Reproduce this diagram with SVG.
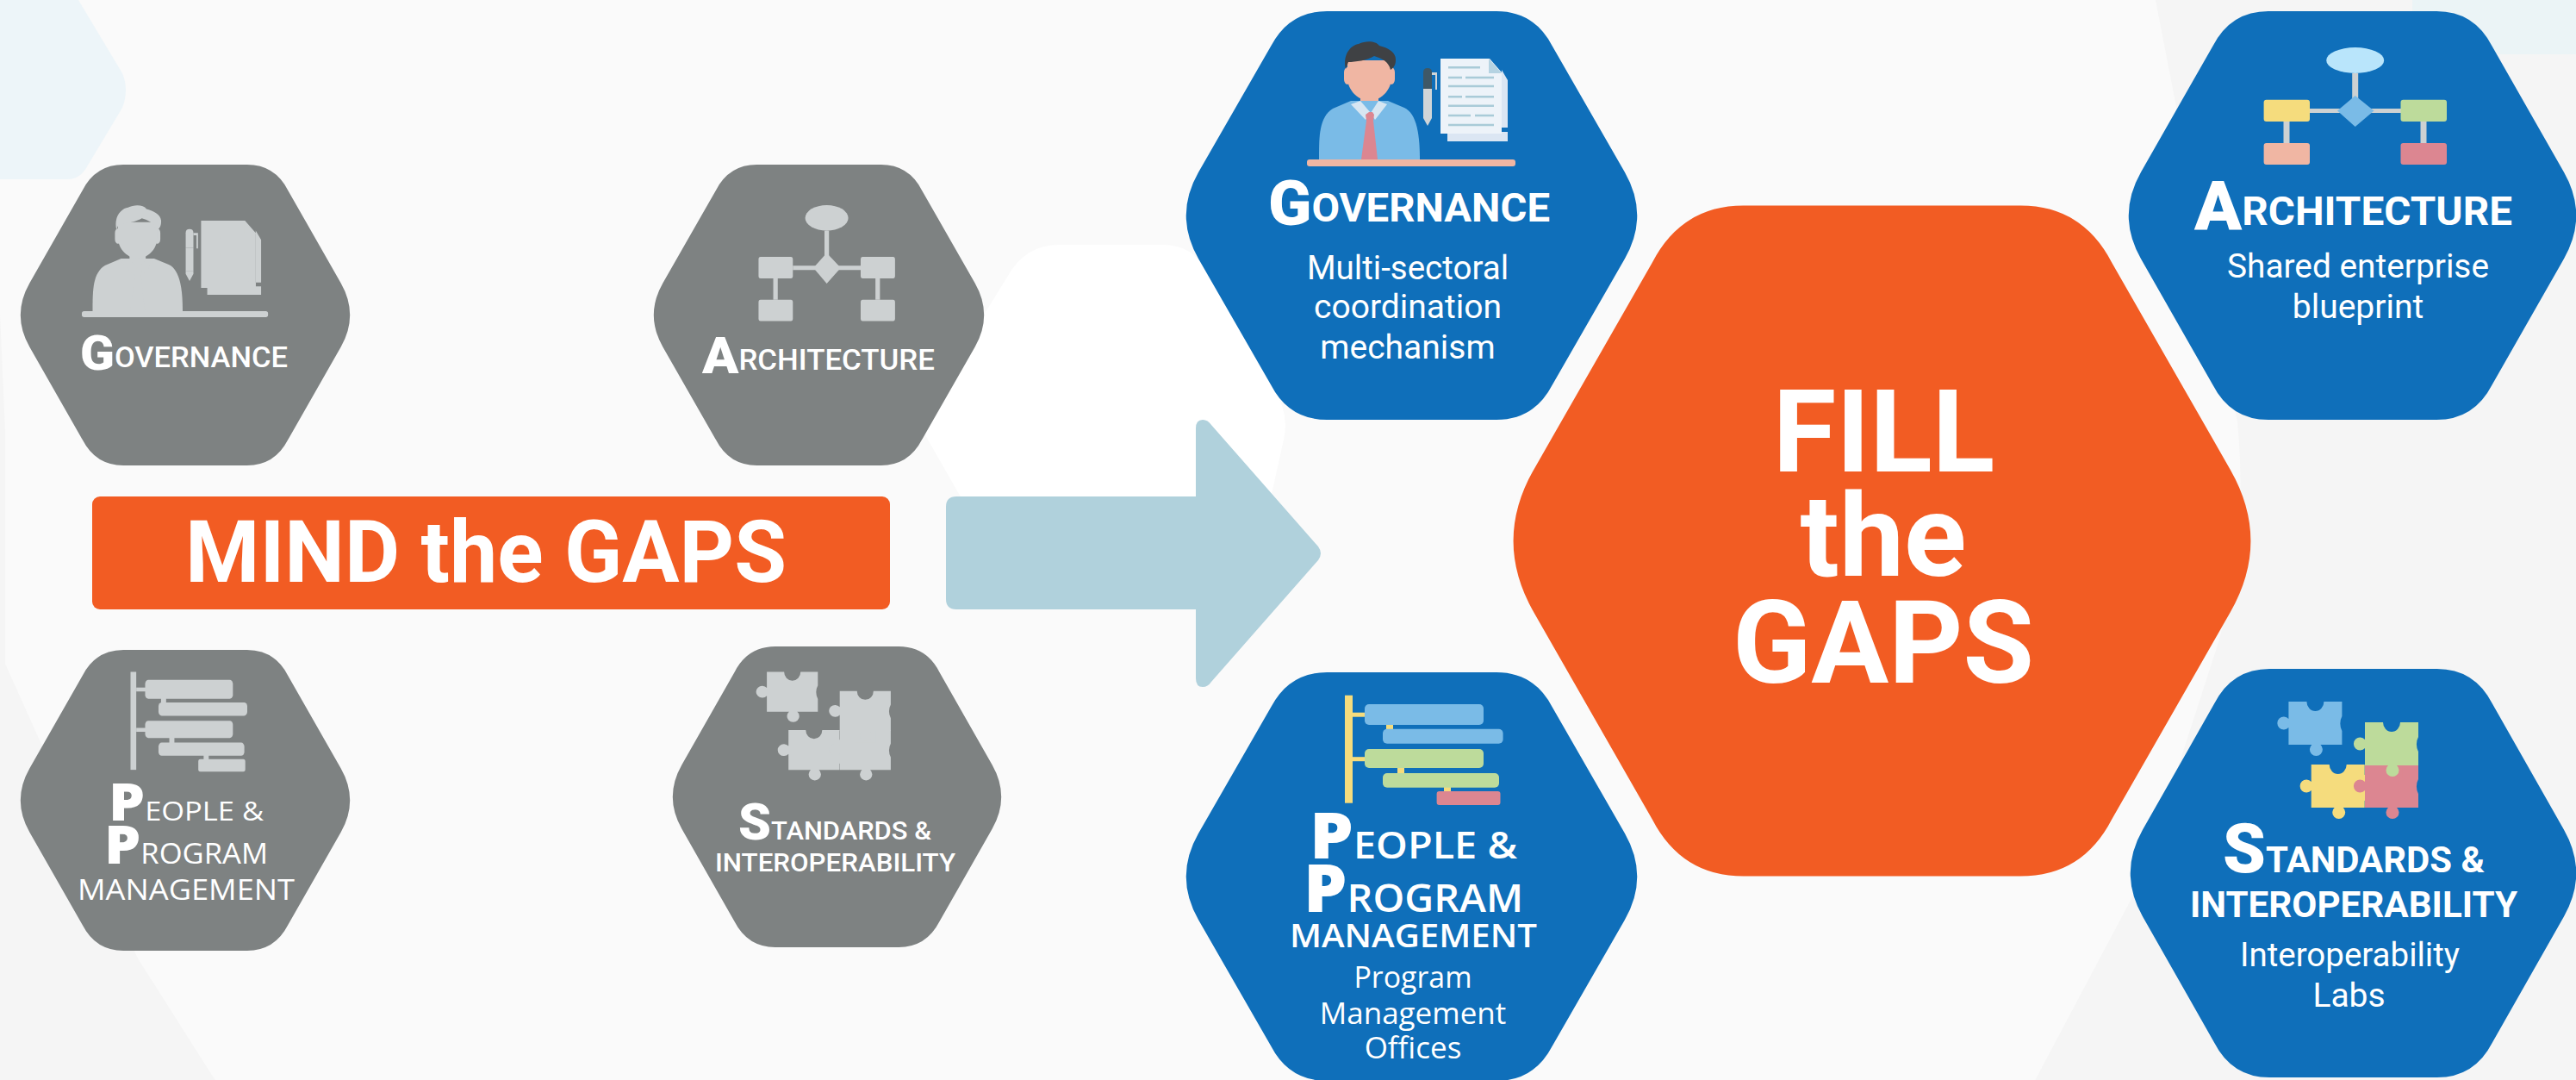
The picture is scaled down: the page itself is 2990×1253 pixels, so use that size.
<svg xmlns="http://www.w3.org/2000/svg" width="2990" height="1253" viewBox="0 0 2990 1253">
<style>
text{fill:#fff;font-family:Roboto,"Liberation Sans",sans-serif}
.hd{font-weight:700}
.hdg{font-weight:500}
.cap{font-weight:900}
.sub{font-weight:400;text-anchor:middle}
.os{font-family:"Open Sans","Liberation Sans",sans-serif;font-weight:600}
.osg{font-family:"Open Sans","Liberation Sans",sans-serif;font-weight:500}
.osb{font-family:"Open Sans","Liberation Sans",sans-serif;font-weight:800}
.oss{font-family:"Open Sans","Liberation Sans",sans-serif;font-weight:400;text-anchor:middle}
.title{font-weight:700}
.mid{text-anchor:middle}
.gray{--sky:#cdd1d2;--skin:#cdd1d2;--hair:#cdd1d2;--tie:#cdd1d2;--col:#cdd1d2;--doc:#cdd1d2;--doc2:#cdd1d2;--line:#cdd1d2;--fold:#cdd1d2;--penD:#cdd1d2;--penL:#cdd1d2;--yel:#cdd1d2;--grn:#cdd1d2;--pnk:#cdd1d2;--oval:#cdd1d2;--con:#cdd1d2;--con2:#cdd1d2}
.color{--sky:#7abbe7;--skin:#f0b6a3;--hair:#3f4144;--tie:#dc8691;--col:#d7e6f2;--doc:#edf3f9;--doc2:#dbe6f3;--line:#a9cbd8;--fold:#b5d3e2;--penD:#3f5866;--penL:#d0d5d8;--yel:#f5dc7d;--grn:#bddb9b;--pnk:#dc8691;--oval:#b9e5fb;--con:#cdd1d2;--con2:#f5dc7d}
.f-sky{fill:var(--sky)}.f-skin{fill:var(--skin)}.f-hair{fill:var(--hair)}.f-tie{fill:var(--tie)}.f-col{fill:var(--col)}.f-doc{fill:var(--doc)}.f-doc2{fill:var(--doc2)}.f-fold{fill:var(--fold)}.f-penD{fill:var(--penD)}.f-penL{fill:var(--penL)}.f-yel{fill:var(--yel)}.f-grn{fill:var(--grn)}.f-pnk{fill:var(--pnk)}.f-oval{fill:var(--oval)}.f-con2{fill:var(--con2)}
.f-con{fill:var(--con)}
.ln{stroke:var(--line);stroke-width:2.6;fill:none}
.hexg{fill:#7e8282}.hexb{fill:#0f6fba}.hexo{fill:#f25c23}
</style>
<defs>
<path id="hex" d="M312,0L688,0Q772,0 812,85L973,394Q1028,500 973,606L812,915Q772,1000 688,1000L312,1000Q228,1000 188,915L27,606Q-28,500 27,394L188,85Q228,0 312,0Z"/>
<g id="icon-person">
<path class="f-skin" d="M62,58H83V74H62Z"/>
<path class="f-sky" d="M14,137C14,110 14,88 30,78L51,69L94,69L113,77C128,84 131,110 131,137Z"/>
<path class="f-col" d="M51,73L62,69L74,83L68,91Z"/>
<path class="f-col" d="M93,73L83,69L74,83L79,91Z"/>
<path class="f-tie" d="M68,85L72,82L76,82L78,85L77,92L82,137L63,137L69,92Z"/>
<path class="f-skin" d="M43,36a4,6 0 0 1 8,0v8a4,6 0 0 1 -8,0ZM94,36a4,6 0 0 1 8,0v8a4,6 0 0 1 -8,0Z"/>
<path class="f-skin" d="M47,22L98,22L98,42C98,58 84,69 72.600,69C61,69 47,58 47,42Z"/>
<path class="f-hair" d="M45,32C41,14 52,4 60,3C68,-1 80,-1 84,5C92,7 104,12 103,22C103,28 100,31 97,33C95,24 88,20 78,17C70,22 56,24 48,24Z"/>
<rect class="f-skin" x="0" y="137" width="242" height="8" rx="3"/>
<path class="f-doc2" d="M163,100H233V45L226,33V107H163Z"/>
<path class="f-doc2" d="M163,105H233V116H163Z"/>
<path class="f-doc" d="M155,20H212L226,36V107H155Z"/>
<path class="f-fold" d="M211,20L226,37H211Z"/>
<path class="ln" d="M164,30.300H201M164,42H180M184,42H217M164,52H217M164,64.300H180M184,64.300H217M164,74.700H217M164,86H190M195,86H217M164,97H217"/>
<path class="f-penD" d="M135,36Q135,31 140,31Q145,31 145,36V55H135Z"/>
<rect class="f-penL" x="135" y="55" width="10" height="30"/>
<path class="f-penL" d="M135,85H145V89L140,98L135,89Z"/>
<path class="f-penL" d="M145,36H151V56H149V39H145Z"/>
</g>
<g id="icon-arch">
<path class="f-con" d="M103.200,30H110.200V60H103.200ZM54,71H160V76H54ZM23.500,86H30.500V111H23.500ZM182.500,86H189.500V111H182.500Z"/>
<ellipse class="f-oval" cx="106.700" cy="15" rx="33.500" ry="15"/>
<path class="f-sky" d="M106.700,56L128.500,73.500L106.700,92L86,73.500Z"/>
<rect class="f-yel" x="0.600" y="60.700" width="53.400" height="25.300" rx="3"/>
<rect class="f-grn" x="159.500" y="60.700" width="53.500" height="25.300" rx="3"/>
<rect class="f-skin" x="0.600" y="111" width="53.400" height="25" rx="3"/>
<rect class="f-tie" x="159.500" y="111" width="53.500" height="25" rx="3"/>
</g>
<g id="icon-gantt">
<rect class="f-con2" x="0" y="0" width="9" height="125"/>
<rect class="f-con2" x="9" y="20" width="16" height="5"/>
<rect class="f-con2" x="9" y="71.500" width="16" height="5"/>
<rect class="f-con2" x="48" y="33" width="8" height="7"/>
<rect class="f-con2" x="61" y="83" width="8" height="8"/>
<rect class="f-con2" x="115" y="105" width="8" height="8"/>
<rect class="f-sky" x="23" y="10.300" width="138" height="24" rx="5"/>
<rect class="f-sky" x="44" y="39" width="139.600" height="17" rx="5"/>
<rect class="f-grn" x="23" y="62.300" width="138" height="22" rx="5"/>
<rect class="f-grn" x="44" y="90.300" width="135" height="16.700" rx="5"/>
<rect class="f-pnk" x="106.600" y="111.300" width="73.900" height="16" rx="3"/>
</g>
<path id="piece" d="M0,0H21a10,11 0 0 0 20,0H62V17a8.500,13 0 0 0 0,17V50H37a7.500,7.500 0 1 1 -10,0H0V30a7.500,7.500 0 1 1 0,-10Z"/>
<g id="icon-puzzle">
<use href="#piece" class="f-sky" x="13.700" y="0"/>
<use href="#piece" class="f-yel" x="40" y="73"/>
<rect class="f-yel" x="90" y="85" width="24" height="30"/>
<use href="#piece" class="f-pnk" x="102.300" y="73"/>
<rect class="f-pnk" x="120" y="73" width="26" height="16"/>
<use href="#piece" class="f-grn" x="102.300" y="24"/>
</g>
</defs>

<g id="background">
<rect width="2990" height="1253" fill="#f5f5f5"/>
<path d="M-5,-10H2500L2597,490Q2610,620 2575,745L2486,1020L2357,1263H256L160,1112L6,770V500L-5,250Z" fill="#fafafa"/>
<path d="M0,-5H88L142,85Q150,104 142,125L100,195Q92,208 78,208H0Z" fill="#edf5f9"/>
<rect x="2800" y="0" width="190" height="63" fill="#ebf4f6"/>
<path d="M1230,284H1350Q1385,284 1400,315L1478,450Q1497,480 1490,510L1470,600L1400,690H1180L1077,510Q1065,490 1077,470L1170,320Q1190,284 1230,284Z" fill="#fff"/>
</g>

<g id="connectors">
<path id="arrow" d="M1110,576H1388V497Q1388,487 1396,487Q1402,487 1406,493L1530,634Q1536,642 1530,650L1406,791Q1402,797 1396,797Q1388,797 1388,787V707H1110Q1098,707 1098,695V588Q1098,576 1110,576Z" fill="#b0d1dc"/>
</g>

<g id="mind-the-gaps">
<rect x="107" y="576" width="926" height="131" rx="9" class="hexo"/>
<text class="title" x="215" y="675" font-size="100" textLength="698" lengthAdjust="spacingAndGlyphs">MIND the GAPS</text>
</g>

<g id="gap-governance" class="gray">
<use href="#hex" class="hexg" transform="translate(24,191) scale(.382,.349)"/>
<use href="#icon-person" transform="translate(95,238) scale(.893,.897)"/>
<text class="hdg" x="93" y="426" font-size="33" textLength="241" lengthAdjust="spacingAndGlyphs"><tspan class="cap" font-size="56" dy="3">G</tspan><tspan dy="-3">OVERNANCE</tspan></text>
</g>
<g id="gap-architecture" class="gray">
<use href="#hex" class="hexg" transform="translate(759,191) scale(.383,.349)"/>
<use href="#icon-arch" transform="translate(880,238) scale(.746,.989)"/>
<text class="hdg" x="815" y="429" font-size="33" textLength="270" lengthAdjust="spacingAndGlyphs"><tspan class="cap" font-size="59" dy="4">A</tspan><tspan dy="-4">RCHITECTURE</tspan></text>
</g>
<g id="gap-people" class="gray">
<use href="#hex" class="hexg" transform="translate(24,754) scale(.382,.349)"/>
<use href="#icon-gantt" transform="translate(151.500,779.500) scale(.738,.909)"/>
<text class="osg" x="126" y="952" font-size="31" textLength="180" lengthAdjust="spacingAndGlyphs"><tspan class="osb" font-size="60">P</tspan>EOPLE &amp;</text>
<text class="osg" x="121" y="1002" font-size="32" textLength="190" lengthAdjust="spacingAndGlyphs"><tspan class="osb" font-size="62">P</tspan>ROGRAM</text>
<text class="osg" x="216" y="1044" font-size="33" text-anchor="middle" textLength="252" lengthAdjust="spacingAndGlyphs">MANAGEMENT</text>
</g>
<g id="gap-standards" class="gray">
<use href="#hex" class="hexg" transform="translate(781,750) scale(.381,.349)"/>
<use href="#icon-puzzle" transform="translate(877,779.500) scale(.955,.925)"/>
<text class="hdg" x="857" y="974" font-size="30" textLength="224" lengthAdjust="spacingAndGlyphs"><tspan class="cap" font-size="59">S</tspan>TANDARDS &amp;</text>
<text class="hdg" x="969.500" y="1011" font-size="30" text-anchor="middle" textLength="279" lengthAdjust="spacingAndGlyphs">INTEROPERABILITY</text>
</g>

<g id="fill-the-gaps">
<use href="#hex" class="hexo" transform="translate(1757,238.600) scale(.855,.778)"/>
<text class="title mid" x="2186.500" y="546.500" font-size="134">FILL</text>
<text class="title mid" x="2186" y="668" font-size="134">the</text>
<text class="title mid" x="2186" y="792" font-size="134">GAPS</text>
</g>

<g id="fill-governance" class="color">
<use href="#hex" class="hexb" transform="translate(1377,13) scale(.523,.474)"/>
<use href="#icon-person" transform="translate(1517,48)"/>
<text class="hd" x="1472" y="257" font-size="46" textLength="327" lengthAdjust="spacingAndGlyphs"><tspan class="cap" font-size="72" dy="4">G</tspan><tspan dy="-4">OVERNANCE</tspan></text>
<text class="sub" x="1634" y="323.500" font-size="39" textLength="234" lengthAdjust="spacingAndGlyphs">Multi-sectoral</text>
<text class="sub" x="1634" y="369" font-size="39">coordination</text>
<text class="sub" x="1634" y="416" font-size="39">mechanism</text>
</g>
<g id="fill-architecture" class="color">
<use href="#hex" class="hexb" transform="translate(2471,13) scale(.519,.474)"/>
<use href="#icon-arch" transform="translate(2627,55)"/>
<text class="hd" x="2547" y="260.700" font-size="47" textLength="369" lengthAdjust="spacingAndGlyphs"><tspan class="cap" font-size="80" dy="6">A</tspan><tspan dy="-6">RCHITECTURE</tspan></text>
<text class="sub" x="2737" y="322" font-size="39" textLength="304" lengthAdjust="spacingAndGlyphs">Shared enterprise</text>
<text class="sub" x="2737" y="369" font-size="39">blueprint</text>
</g>
<g id="fill-people" class="color">
<use href="#hex" class="hexb" transform="translate(1377,780) scale(.523,.474)"/>
<use href="#icon-gantt" transform="translate(1561,806.700)"/>
<text class="os" x="1520" y="996" font-size="43" textLength="241" lengthAdjust="spacingAndGlyphs"><tspan class="osb" font-size="74">P</tspan>EOPLE &amp;</text>
<text class="os" x="1513" y="1058" font-size="45" textLength="255" lengthAdjust="spacingAndGlyphs"><tspan class="osb" font-size="77">P</tspan>ROGRAM</text>
<text class="os" x="1640.500" y="1099" font-size="38" text-anchor="middle" textLength="287" lengthAdjust="spacingAndGlyphs">MANAGEMENT</text>
<text class="oss" x="1640" y="1146" font-size="35" textLength="137" lengthAdjust="spacingAndGlyphs">Program</text>
<text class="oss" x="1640" y="1188" font-size="35">Management</text>
<text class="oss" x="1640" y="1228" font-size="35">Offices</text>
</g>
<g id="fill-standards" class="color">
<use href="#hex" class="hexb" transform="translate(2473,776) scale(.517,.474)"/>
<use href="#icon-puzzle" transform="translate(2642.700,814)"/>
<text class="hd" x="2580" y="1012" font-size="42" textLength="304" lengthAdjust="spacingAndGlyphs"><tspan class="cap" font-size="80">S</tspan>TANDARDS &amp;</text>
<text class="hd mid" x="2732" y="1064" font-size="42" textLength="380" lengthAdjust="spacingAndGlyphs">INTEROPERABILITY</text>
<text class="sub" x="2727.500" y="1121" font-size="39" textLength="255" lengthAdjust="spacingAndGlyphs">Interoperability</text>
<text class="sub" x="2726.500" y="1168" font-size="39">Labs</text>
</g>
</svg>
